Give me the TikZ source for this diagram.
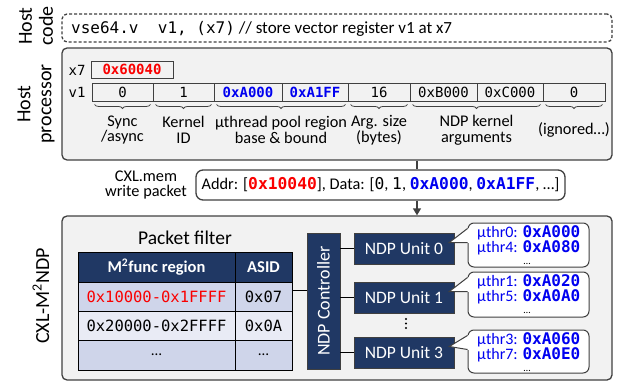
\documentclass[tikz,border=0pt]{standalone}
\usepackage{fontspec}
\setmainfont{Carlito}
\newfontfamily\monof{DejaVu Sans Mono}
\usetikzlibrary{decorations.pathreplacing,arrows.meta}
\definecolor{bg}{HTML}{F2F2F2}
\definecolor{edge}{HTML}{404040}
\definecolor{navy}{HTML}{203864}
\definecolor{rowA}{HTML}{CFD5EA}
\definecolor{rowB}{HTML}{E9EBF5}
\definecolor{hblue}{RGB}{0,0,240}
\definecolor{hred}{RGB}{250,0,0}
\newcommand\fsz[2]{\fontsize{#1}{#2}\selectfont}
\newcommand\hbl[1]{{\monof\bfseries\color{hblue}#1}}
\newcommand\hrd[1]{{\monof\bfseries\color{hred}#1}}
\begin{document}
\begin{tikzpicture}[x=1pt,y=-1pt,
  frame/.style={draw=edge,line width=1.3pt,rounded corners=5pt,fill=bg,inner sep=0pt},
  dframe/.style={draw=edge,line width=1.3pt,rounded corners=5pt,dash pattern=on 3pt off 2pt,fill=white,inner sep=0pt},
  cell/.style={draw=edge,line width=0.9pt,minimum height=18pt,inner sep=0pt,font=\monof\fsz{14}{16}},
  brc/.style={decorate,decoration={brace,mirror,amplitude=4pt},draw=edge,line width=0.8pt},
  lab/.style={font=\fsz{16.3}{15.5},align=center,inner sep=0pt},
  big/.style={font=\fsz{20}{21},align=center,rotate=90,inner sep=0pt},
  tcell/.style={draw=black,line width=0.8pt,inner sep=0pt,minimum height=29pt,font=\monof\fsz{15.5}{16}},
  navybox/.style={fill=navy,draw=edge,line width=0.6pt,text=white,inner sep=0pt,font=\fsz{17.5}{17.5}},
  cbox/.style={draw=edge,fill=white,rounded corners=6pt,line width=1pt,inner sep=0pt,minimum width=121pt},
  ctext/.style={font=\fsz{16}{16},text=hblue,inner sep=0pt,anchor=base west},
  cdots/.style={font=\fsz{10}{10},inner sep=0pt,anchor=base},
  tail/.style={draw=edge,line width=1pt},
  wire/.style={draw=edge,line width=1.3pt},
]
\useasboundingbox (0,0) rectangle (618,385);

% left labels
\node[big] (lhc) at (36,26) {Host\\code};
\node[big] (lhp) at (36,104) {Host\\processor};
\node[big] (lcxl) at (41,296) {CXL-M\textsuperscript{2}NDP};

% host code
\node[dframe,minimum width=550pt,minimum height=28pt] (code) at (337,28) {};
\node[anchor=west,inner sep=0pt,font=\fsz{17}{17}] (codetxt) at (71,29) {{\monof\fsz{16}{16}vse64.v\ \ v1,\ (x7)} // store vector register v1 at x7};

% host processor
\node[frame,minimum width=550pt,minimum height=112pt] (proc) at (337,104) {};
\node[font=\monof\fsz{14}{14},inner sep=0pt] (x7) at (77,70) {x7};
\node[cell,minimum width=82pt,minimum height=17pt] (x7v) at (132,69.5) {\hrd{0x60040}};
\node[font=\monof\fsz{14}{14},inner sep=0pt] (v1) at (77,92) {v1};
\node[cell,minimum width=61pt] (c1) at (122.5,92) {0};
\node[cell,minimum width=61pt] (c2) at (183.5,92) {1};
\node[cell,minimum width=68pt] (c3) at (248,92) {\hbl{0xA000}};
\node[cell,minimum width=66pt] (c4) at (315,92) {\hbl{0xA1FF}};
\node[cell,minimum width=62pt] (c5) at (379,92) {16};
\node[cell,minimum width=67pt] (c6) at (443.5,92) {0xB000};
\node[cell,minimum width=66pt] (c7) at (510,92) {0xC000};
\node[cell,minimum width=62pt] (c8) at (574,92) {0};

\draw[brc] ([xshift=3pt,yshift=-3pt]c1.south west) -- ([xshift=-3pt,yshift=-3pt]c1.south east);
\draw[brc] ([xshift=3pt,yshift=-3pt]c2.south west) -- ([xshift=-3pt,yshift=-3pt]c2.south east);
\draw[brc] ([xshift=3pt,yshift=-3pt]c3.south west) -- ([xshift=-3pt,yshift=-3pt]c4.south east);
\draw[brc] ([xshift=3pt,yshift=-3pt]c5.south west) -- ([xshift=-3pt,yshift=-3pt]c5.south east);
\draw[brc] ([xshift=3pt,yshift=-3pt]c6.south west) -- ([xshift=-3pt,yshift=-3pt]c7.south east);
\draw[brc] ([xshift=3pt,yshift=-3pt]c8.south west) -- ([xshift=-3pt,yshift=-3pt]c8.south east);

\node[lab] (gsync) at (122.5,130) {Sync\\/async};
\node[lab] (gkid) at (183.5,130) {Kernel\\ID};
\node[lab] (gpool) at (281,130) {µthread pool region\\base \& bound};
\node[lab] (garg) at (379,130) {Arg. size\\(bytes)};
\node[lab] (gndp) at (476.5,130) {NDP kernel\\arguments};
\node[lab] (gign) at (574,130) {(ignored…)};

% packet
\node[lab] (lpkt) at (146,185) {CXL.mem\\write packet};
\node[draw=edge,line width=1.3pt,rounded corners=7pt,fill=white,minimum width=369pt,minimum height=30pt,inner sep=0pt,font=\fsz{16.3}{16}] (pkt) at (380.5,185) {Addr: [\hrd{0x10040}], Data: [{\monof 0}, {\monof 1}, \hbl{0xA000}, \hbl{0xA1FF}, …]};

% CXL box
\node[frame,minimum width=550pt,minimum height=164pt] (cxl) at (337,298) {};
\coordinate (link) at (417,0);
\draw[wire] (proc.south -| link) -- (pkt.north -| link);
\draw[wire,-{Triangle[length=7pt,width=8pt]}] (pkt.south -| link) -- (cxl.north -| link);

% packet filter table
\node[font=\fsz{19.5}{19.5},inner sep=0pt] (pf) at (185,238) {Packet filter};
\node[tcell,fill=navy,text=white,font=\bfseries\fsz{16.5}{16.5},minimum width=157pt,minimum height=30pt] (h1) at (156.5,267) {M\textsuperscript{2}func region};
\node[tcell,fill=navy,text=white,font=\bfseries\fsz{16.5}{16.5},minimum width=57pt,minimum height=30pt] (h2) at (263.5,267) {ASID};
\node[tcell,fill=rowA,text=hred,minimum width=157pt] (r1a) at (156.5,296.5) {0x10000-0x1FFFF};
\node[tcell,fill=rowA,minimum width=57pt] (r1b) at (263.5,296.5) {0x07};
\node[tcell,fill=rowB,minimum width=157pt] (r2a) at (156.5,325.5) {0x20000-0x2FFFF};
\node[tcell,fill=rowB,minimum width=57pt] (r2b) at (263.5,325.5) {0x0A};
\node[tcell,fill=rowA,font=\fsz{15}{15},minimum width=157pt,minimum height=30pt] (r3a) at (156.5,355) {…};
\node[tcell,fill=rowA,font=\fsz{15}{15},minimum width=57pt,minimum height=30pt] (r3b) at (263.5,355) {…};

% NDP controller and units
\node[navybox,minimum width=33pt,minimum height=136pt] (ndpc) at (323.5,301) {};
\node[rotate=90,text=white,font=\fsz{18}{18},inner sep=0pt] (ndpct) at (ndpc.center) {NDP Controller};
\coordinate (tl) at (0,290);
\draw[draw=black,line width=1pt] (r1b.east |- tl) -- (ndpc.west |- tl);

\node[navybox,minimum width=100pt,minimum height=31pt] (u0) at (404,248.5) {NDP Unit 0};
\node[navybox,minimum width=100pt,minimum height=31pt] (u1) at (404,297.5) {NDP Unit 1};
\node[navybox,minimum width=100pt,minimum height=31pt] (u3) at (404,352.5) {NDP Unit 3};
\draw[draw=black,line width=1pt] (ndpc.east |- u0) -- (u0.west);
\draw[draw=black,line width=1pt] (ndpc.east |- u1) -- (u1.west);
\draw[draw=black,line width=1pt] (ndpc.east |- u3) -- (u3.west);
\fill[black] (406,319) circle (1.1pt) (406,323.5) circle (1.1pt) (406,328) circle (1.1pt);

% callouts
\node[cbox,minimum height=44pt] (cb0) at (528.5,245) {};
\node[cbox,minimum height=45pt] (cb1) at (528.5,294.5) {};
\node[cbox,minimum height=43pt] (cb3) at (528.5,351.5) {};
\foreach \b/\u in {cb0/u0,cb1/u1,cb3/u3}{
  \fill[white] ([xshift=1.5pt,yshift=-5.5pt]\b.north west) -- ([xshift=-5pt,yshift=6pt]\u.east) -- ([xshift=1.5pt,yshift=-20.5pt]\b.north west) -- cycle;
  \draw[tail] ([yshift=-6pt]\b.north west) -- ([xshift=-5pt,yshift=6pt]\u.east) -- ([yshift=-20pt]\b.north west);
}
\node[ctext] (t01) at (477,237) {µthr0: \hbl{0xA000}};
\node[ctext] (t02) at (477,252) {µthr4: \hbl{0xA080}};
\node[cdots] (t0d) at (527,264) {…};
\node[ctext] (t11) at (477,286.5) {µthr1: \hbl{0xA020}};
\node[ctext] (t12) at (477,301.5) {µthr5: \hbl{0xA0A0}};
\node[cdots] (t1d) at (527,313.5) {…};
\node[ctext] (t31) at (477,344) {µthr3: \hbl{0xA060}};
\node[ctext] (t32) at (477,359) {µthr7: \hbl{0xA0E0}};
\node[cdots] (t3d) at (527,371) {…};
\end{tikzpicture}
\end{document}
